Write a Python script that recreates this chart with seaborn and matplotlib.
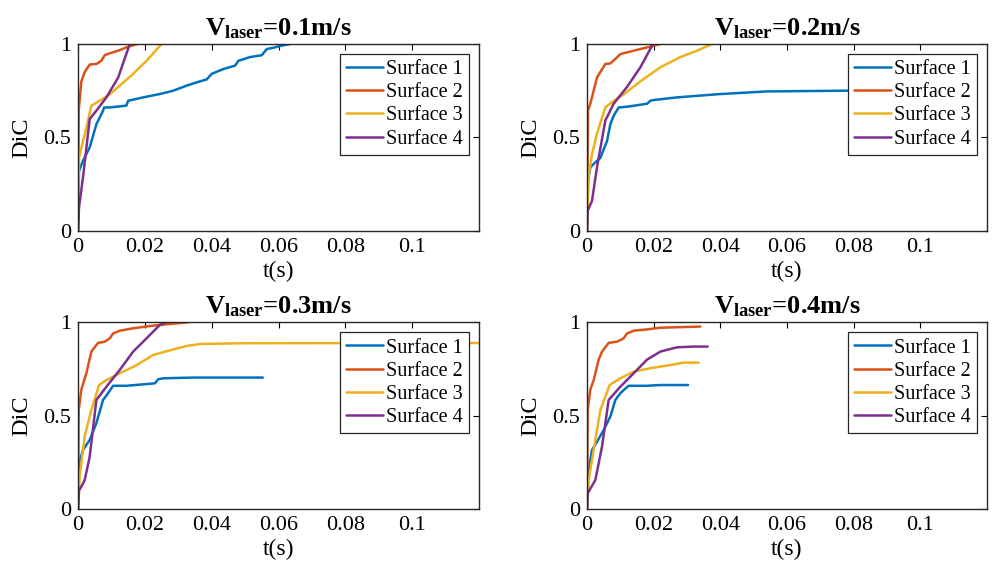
import numpy as np
import pandas as pd
import matplotlib
matplotlib.use("Agg")
import matplotlib.pyplot as plt
import seaborn as sns

# ---------------- data ----------------
speeds = ["0.1", "0.2", "0.3", "0.4"]
surfaces = ["Surface 1", "Surface 2", "Surface 3", "Surface 4"]
colors = ["#0072BD", "#D95319", "#EDB120", "#7E2F8E"]
x_ticks = [0, 0.02, 0.04, 0.06, 0.08, 0.1]
x_tick_labels = ["0", "0.02", "0.04", "0.06", "0.08", "0.1"]
y_ticks = [0, 0.5, 1]
y_tick_labels = ["0", "0.5", "1"]

# V = 0.1 m/s
t_01_s1 = [0, 0.0003, 0.0015, 0.0035, 0.0055, 0.0075, 0.0078, 0.0095, 0.0145, 0.015, 0.0195, 0.0245, 0.0285, 0.0325,
           0.0365, 0.0385, 0.040, 0.0435, 0.047, 0.048, 0.0515, 0.055, 0.0565, 0.0585, 0.0605, 0.0635]
d_01_s1 = [0, 0.32, 0.375, 0.446, 0.57, 0.643, 0.66, 0.66, 0.67, 0.696, 0.714, 0.732, 0.75, 0.777,
           0.80, 0.81, 0.84, 0.866, 0.884, 0.91, 0.93, 0.94, 0.973, 0.98, 0.99, 1.0]
t_01_s2 = [0, 0.0002, 0.0005, 0.001, 0.002, 0.0035, 0.0055, 0.007, 0.008, 0.0095, 0.012, 0.0145, 0.016, 0.0178]
d_01_s2 = [0, 0.643, 0.70, 0.80, 0.85, 0.89, 0.893, 0.91, 0.94, 0.95, 0.964, 0.982, 0.991, 1.0]
t_01_s3 = [0, 0.0003, 0.0015, 0.0025, 0.004, 0.0065, 0.0095, 0.0125, 0.0165, 0.0205, 0.025]
d_01_s3 = [0, 0.39, 0.48, 0.55, 0.67, 0.696, 0.73, 0.777, 0.84, 0.91, 1.0]
t_01_s4 = [0, 0.0003, 0.0015, 0.0035, 0.0055, 0.0085, 0.012, 0.0155]
d_01_s4 = [0, 0.125, 0.286, 0.598, 0.643, 0.714, 0.82, 1.0]

# V = 0.2 m/s
t_02_s1 = [0, 0.0003, 0.001, 0.0025, 0.004, 0.006, 0.007, 0.008, 0.0095, 0.012, 0.018, 0.019, 0.02, 0.027, 0.04,
           0.054, 0.078, 0.095]
d_02_s1 = [0, 0.27, 0.34, 0.366, 0.39, 0.48, 0.57, 0.616, 0.66, 0.664, 0.68, 0.696, 0.70, 0.714, 0.732,
           0.746, 0.75, 0.752]
t_02_s2 = [0, 0.0003, 0.001, 0.002, 0.003, 0.004, 0.0055, 0.007, 0.0085, 0.010, 0.012, 0.016, 0.019, 0.022]
d_02_s2 = [0, 0.643, 0.68, 0.75, 0.82, 0.85, 0.893, 0.896, 0.92, 0.946, 0.955, 0.973, 0.986, 1.0]
t_02_s3 = [0, 0.0005, 0.0015, 0.003, 0.0055, 0.008, 0.011, 0.016, 0.022, 0.028, 0.033, 0.0375]
d_02_s3 = [0, 0.30, 0.41, 0.52, 0.66, 0.696, 0.73, 0.80, 0.875, 0.93, 0.964, 1.0]
t_02_s4 = [0, 0.0002, 0.0015, 0.003, 0.0055, 0.008, 0.012, 0.016, 0.0198]
d_02_s4 = [0, 0.107, 0.16, 0.34, 0.59, 0.68, 0.77, 0.875, 1.0]

# V = 0.3 m/s
t_03_s1 = [0, 0.0003, 0.0015, 0.0035, 0.0055, 0.0075, 0.009, 0.0105, 0.0145, 0.023, 0.024, 0.0255, 0.0345, 0.0553]
d_03_s1 = [0, 0.245, 0.316, 0.37, 0.46, 0.584, 0.62, 0.66, 0.66, 0.673, 0.695, 0.70, 0.704, 0.704]
t_03_s2 = [0, 0.0002, 0.001, 0.0025, 0.004, 0.006, 0.008, 0.0095, 0.0105, 0.0125, 0.0165, 0.0215, 0.0275, 0.0328]
d_03_s2 = [0, 0.53, 0.64, 0.727, 0.843, 0.89, 0.896, 0.914, 0.94, 0.955, 0.968, 0.98, 0.991, 1.0]
t_03_s3 = [0, 0.0005, 0.002, 0.004, 0.0063, 0.0085, 0.0125, 0.0175, 0.0225, 0.0275, 0.0325, 0.0365, 0.05, 0.12]
d_03_s3 = [0, 0.173, 0.39, 0.53, 0.664, 0.69, 0.727, 0.77, 0.825, 0.85, 0.873, 0.884, 0.888, 0.889]
t_03_s4 = [0, 0.0003, 0.001, 0.002, 0.0035, 0.0055, 0.0085, 0.0125, 0.0165, 0.0205, 0.0245, 0.0263]
d_03_s4 = [0, 0.10, 0.12, 0.155, 0.28, 0.584, 0.655, 0.745, 0.843, 0.914, 0.986, 1.0]

# V = 0.4 m/s
t_04_s1 = [0, 0.0005, 0.0015, 0.003, 0.005, 0.007, 0.0085, 0.010, 0.011, 0.0125, 0.018, 0.022, 0.0303]
d_04_s1 = [0, 0.21, 0.316, 0.36, 0.423, 0.495, 0.584, 0.62, 0.637, 0.66, 0.66, 0.664, 0.664]
t_04_s2 = [0, 0.0002, 0.001, 0.002, 0.0035, 0.0045, 0.0065, 0.009, 0.011, 0.012, 0.014, 0.018, 0.022, 0.034]
d_04_s2 = [0, 0.53, 0.64, 0.69, 0.80, 0.843, 0.89, 0.896, 0.914, 0.94, 0.955, 0.962, 0.971, 0.977]
t_04_s3 = [0, 0.0005, 0.002, 0.004, 0.0068, 0.010, 0.014, 0.019, 0.025, 0.029, 0.0335]
d_04_s3 = [0, 0.155, 0.316, 0.53, 0.664, 0.70, 0.736, 0.754, 0.771, 0.784, 0.784]
t_04_s4 = [0, 0.0002, 0.0025, 0.0045, 0.0065, 0.010, 0.014, 0.018, 0.022, 0.027, 0.032, 0.0362]
d_04_s4 = [0, 0.084, 0.155, 0.334, 0.584, 0.655, 0.727, 0.80, 0.843, 0.866, 0.87, 0.87]

series = {
    "0.1": [(t_01_s1, d_01_s1), (t_01_s2, d_01_s2), (t_01_s3, d_01_s3), (t_01_s4, d_01_s4)],
    "0.2": [(t_02_s1, d_02_s1), (t_02_s2, d_02_s2), (t_02_s3, d_02_s3), (t_02_s4, d_02_s4)],
    "0.3": [(t_03_s1, d_03_s1), (t_03_s2, d_03_s2), (t_03_s3, d_03_s3), (t_03_s4, d_03_s4)],
    "0.4": [(t_04_s1, d_04_s1), (t_04_s2, d_04_s2), (t_04_s3, d_04_s3), (t_04_s4, d_04_s4)],
}

# ---------------- style ----------------
sns.set_theme(style="white")
plt.rcParams["font.family"] = ["Liberation Serif", "DejaVu Serif"]
plt.rcParams["mathtext.fontset"] = "custom"
plt.rcParams["mathtext.rm"] = "Liberation Serif"
plt.rcParams["mathtext.bf"] = "Liberation Serif:bold"
plt.rcParams["mathtext.it"] = "Liberation Serif:italic"
plt.rcParams["axes.edgecolor"] = "black"
plt.rcParams["axes.linewidth"] = 1.0
plt.rcParams["text.color"] = "black"
plt.rcParams["axes.labelcolor"] = "black"
plt.rcParams["xtick.color"] = "black"
plt.rcParams["ytick.color"] = "black"

fig = plt.figure(figsize=(9.95, 5.75), dpi=100)
W, H = 995.0, 575.0
boxes = [
    (78, 44, 479, 230.7),
    (587, 44, 987, 230.7),
    (78, 322.3, 479, 509),
    (587, 322.3, 987, 509),
]

for i, sp in enumerate(speeds):
    x0, y0, x1, y1 = boxes[i]
    ax = fig.add_axes([x0 / W, 1 - y1 / H, (x1 - x0) / W, (y1 - y0) / H])
    rows = []
    for name, (tt, dd) in zip(surfaces, series[sp]):
        for a, b in zip(tt, dd):
            rows.append({"t": a, "DiC": b, "Surface": name})
    df = pd.DataFrame(rows)
    sns.lineplot(data=df, x="t", y="DiC", hue="Surface", hue_order=surfaces,
                 palette=colors, sort=False, estimator=None, linewidth=1.8, ax=ax)
    ax.set_xlim(0, 0.12)
    ax.set_ylim(0, 1)
    ax.set_xticks(x_ticks)
    ax.set_xticklabels(x_tick_labels)
    ax.set_yticks(y_ticks)
    ax.set_yticklabels(y_tick_labels)
    ax.tick_params(direction="in", length=4, width=0.8, top=True, right=True,
                   labelsize=16, pad=5)
    for s in ax.spines.values():
        s.set_visible(True)
        s.set_color("#262626")
        s.set_linewidth(1.0)
    ax.set_xlabel("t(s)", fontsize=17, labelpad=3)
    ax.set_ylabel("DiC", fontsize=17.5, labelpad=8)
    ax.set_title(r"$\mathbf{V}_{\mathbf{laser}}$=" + sp + "m/s", fontsize=19,
                 fontweight="bold", pad=6.5)
    handles, labels = ax.get_legend_handles_labels()
    leg = ax.legend(handles, labels, loc="upper right", fontsize=14.5,
                    frameon=True, fancybox=False, shadow=False, framealpha=1,
                    edgecolor="#262626", labelspacing=0.2, handlelength=1.85,
                    handletextpad=0.15, borderpad=0.3, borderaxespad=0.5)
    leg.get_frame().set_linewidth(0.9)
    for lh in leg.get_lines():
        lh.set_linewidth(1.8)

fig.savefig("out.png", dpi=100)
